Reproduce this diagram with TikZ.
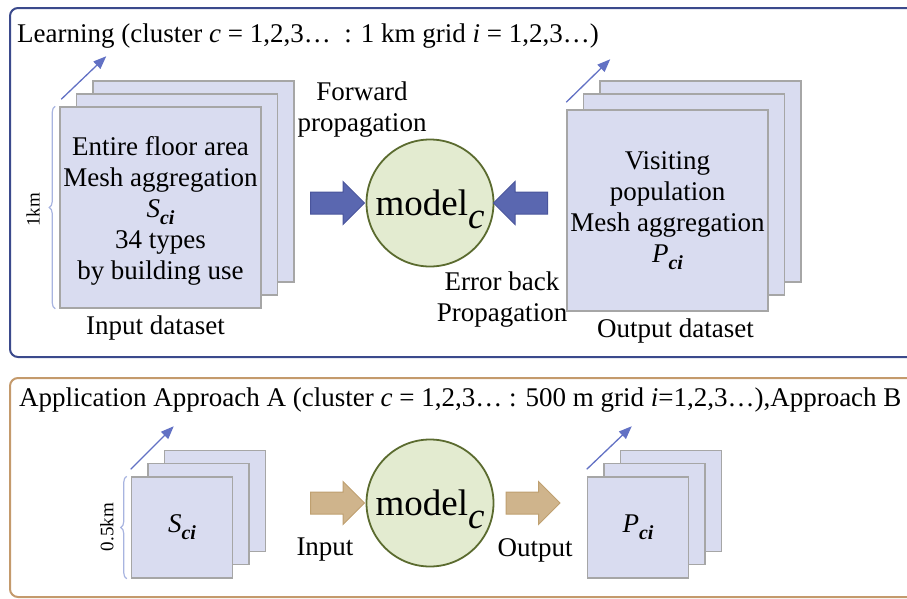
\documentclass[tikz,border=0pt]{standalone}
\usepackage{fontspec}
\setmainfont{Liberation Serif}
\usetikzlibrary{shapes.arrows, arrows.meta, positioning, calc, decorations.pathreplacing}

\definecolor{learnframe}{HTML}{3B4A8C}
\definecolor{applyframe}{HTML}{C49A6C}
\definecolor{sheetfill}{HTML}{D9DCF0}
\definecolor{sheetedge}{HTML}{A6A6A6}
\definecolor{modelfill}{HTML}{E3EBD0}
\definecolor{modeledge}{HTML}{5B6B2F}
\definecolor{bluefill}{HTML}{5A67B0}
\definecolor{blueedge}{HTML}{4A559C}
\definecolor{tanfill}{HTML}{CFB48C}
\definecolor{tanedge}{HTML}{BFA070}
\definecolor{stackblue}{HTML}{6271C4}
\definecolor{bracecolor}{HTML}{A8B4E0}

\newcommand{\gridvar}[1]{\textit{#1}\raisebox{-7pt}{\fontsize{20}{20}\selectfont\textit{\textbf{ci}}}}
\newcommand{\modelc}{model\raisebox{-13pt}{\textit{c}}}

\begin{document}
\begin{tikzpicture}[
    x=1pt, y=-1pt,
    font=\fontsize{27}{31}\selectfont,
    sheet/.style={rectangle, draw=sheetedge, fill=sheetfill, line width=1.5pt, minimum size=201pt, inner sep=0pt, align=center},
    smallsheet/.style={sheet, minimum size=101pt},
    model/.style={circle, draw=modeledge, fill=modelfill, line width=1.8pt, minimum size=127pt, inner sep=0pt, text depth=0pt, font=\fontsize{37}{40}\selectfont},
    fatarrow/.style={single arrow, draw=blueedge, fill=bluefill, line width=1pt, minimum height=54pt, minimum width=42pt, single arrow head extend=10.5pt, inner xsep=0pt, inner ysep=10.5pt},
    tanarrow/.style={fatarrow, draw=tanedge, fill=tanfill},
    stackarrow/.style={->, >={Triangle[length=13pt, width=10pt]}, draw=stackblue, line width=1.3pt},
    sizebrace/.style={decorate, decoration={brace, amplitude=6pt}, draw=bracecolor, line width=1.2pt},
    kmlabel/.style={rotate=90, font=\fontsize{19}{20}\selectfont},
    frame/.style={rounded corners=8pt, line width=2pt}
]
\clip (0,0) rectangle (907,598);

% Frames

\draw[frame, draw=learnframe] (10,8) rectangle (940,357);
\draw[frame, draw=applyframe] (10,378) rectangle (940,597);

\node[anchor=base west, inner sep=0pt] (learntitle) at (17,42) {Learning (cluster \textit{c} = 1,2,3\dots\ \ : 1 km grid \textit{i} = 1,2,3\dots)};
\node[anchor=base west, inner sep=0pt] (applytitle) at (19,406) {Application Approach A (cluster \textit{c} = 1,2,3\dots\ : 500 m grid \textit{i}=1,2,3\dots),Approach B};

% Learning: input dataset

\node[sheet] (inback) at (193.5,181.5) {};
\node[sheet] (inmid) at (177,194.5) {};
\node[sheet, text depth=0pt] (infront) at (160.5,207.5) {Entire floor area\\Mesh aggregation\\\gridvar{S}\\34 types\\by building use};
\coordinate (inhead) at ($(infront.north west)+(47,-50)$);
\draw[stackarrow] ($(infront.north west)+(2,-7)$) -- (inhead);
\draw[sizebrace] ($(infront.south west)+(-4,0)$) -- ($(infront.north west)+(-4,0)$);
\node[kmlabel] (inkm) at (33,210) {1km};
\node[below=3pt of infront, xshift=-5pt] (inlabel) {Input dataset};

% Learning: model

\node[model] (learnmodel) at (430,203) {\modelc};
\node[fatarrow] (fwdarrow) at (332,203) {};
\node[fatarrow, shape border rotate=180] (backarrow) at (526,203) {};
\node[align=center] (fwdlabel) at (362,110) {Forward\\propagation};
\node[align=center] (backlabel) at (502,300) {Error back\\Propagation};

% Learning: output dataset

\node[sheet] (outback) at (700.5,181.5) {};
\node[sheet] (outmid) at (684,194.5) {};
\node[sheet, yshift=-3pt] (outfront) at (667.5,207.5) {Visiting\\population\\Mesh aggregation\\\gridvar{P}};
\coordinate (outhead) at ($(outfront.north west)+(44,-50)$);
\draw[stackarrow] ($(outfront.north west)+(0,-7)$) -- (outhead);
\node[below=3pt of outfront, xshift=8pt] (outlabel) {Output dataset};

% Application

\node[smallsheet] (sback) at (215,501) {};
\node[smallsheet] (smid) at (198.5,514) {};
\node[smallsheet] (sfront) at (182,527.5) {\gridvar{S}};
\coordinate (shead) at ($(sfront.north west)+(43,-50)$);
\draw[stackarrow] ($(sfront.north west)+(0,-7)$) -- (shead);
\draw[sizebrace] ($(sfront.south west)+(-4,0)$) -- ($(sfront.north west)+(-4,0)$);
\node[kmlabel] (skm) at (107,527) {0.5km};

\node[model] (applymodel) at (430,503) {\modelc};
\node[tanarrow] (inarrow) at (332,503) {};
\node[tanarrow] (outarrow) at (527.5,503) {};
\node (inputlabel) at (325,550) {Input};
\node (outputlabel) at (535,550) {Output};

\node[smallsheet] (pback) at (671,501) {};
\node[smallsheet] (pmid) at (654.5,514) {};
\node[smallsheet] (pfront) at (638,527.5) {\gridvar{P}};
\coordinate (phead) at ($(pfront.north west)+(45,-50)$);
\draw[stackarrow] ($(pfront.north west)+(0,-7)$) -- (phead);

\end{tikzpicture}
\end{document}
